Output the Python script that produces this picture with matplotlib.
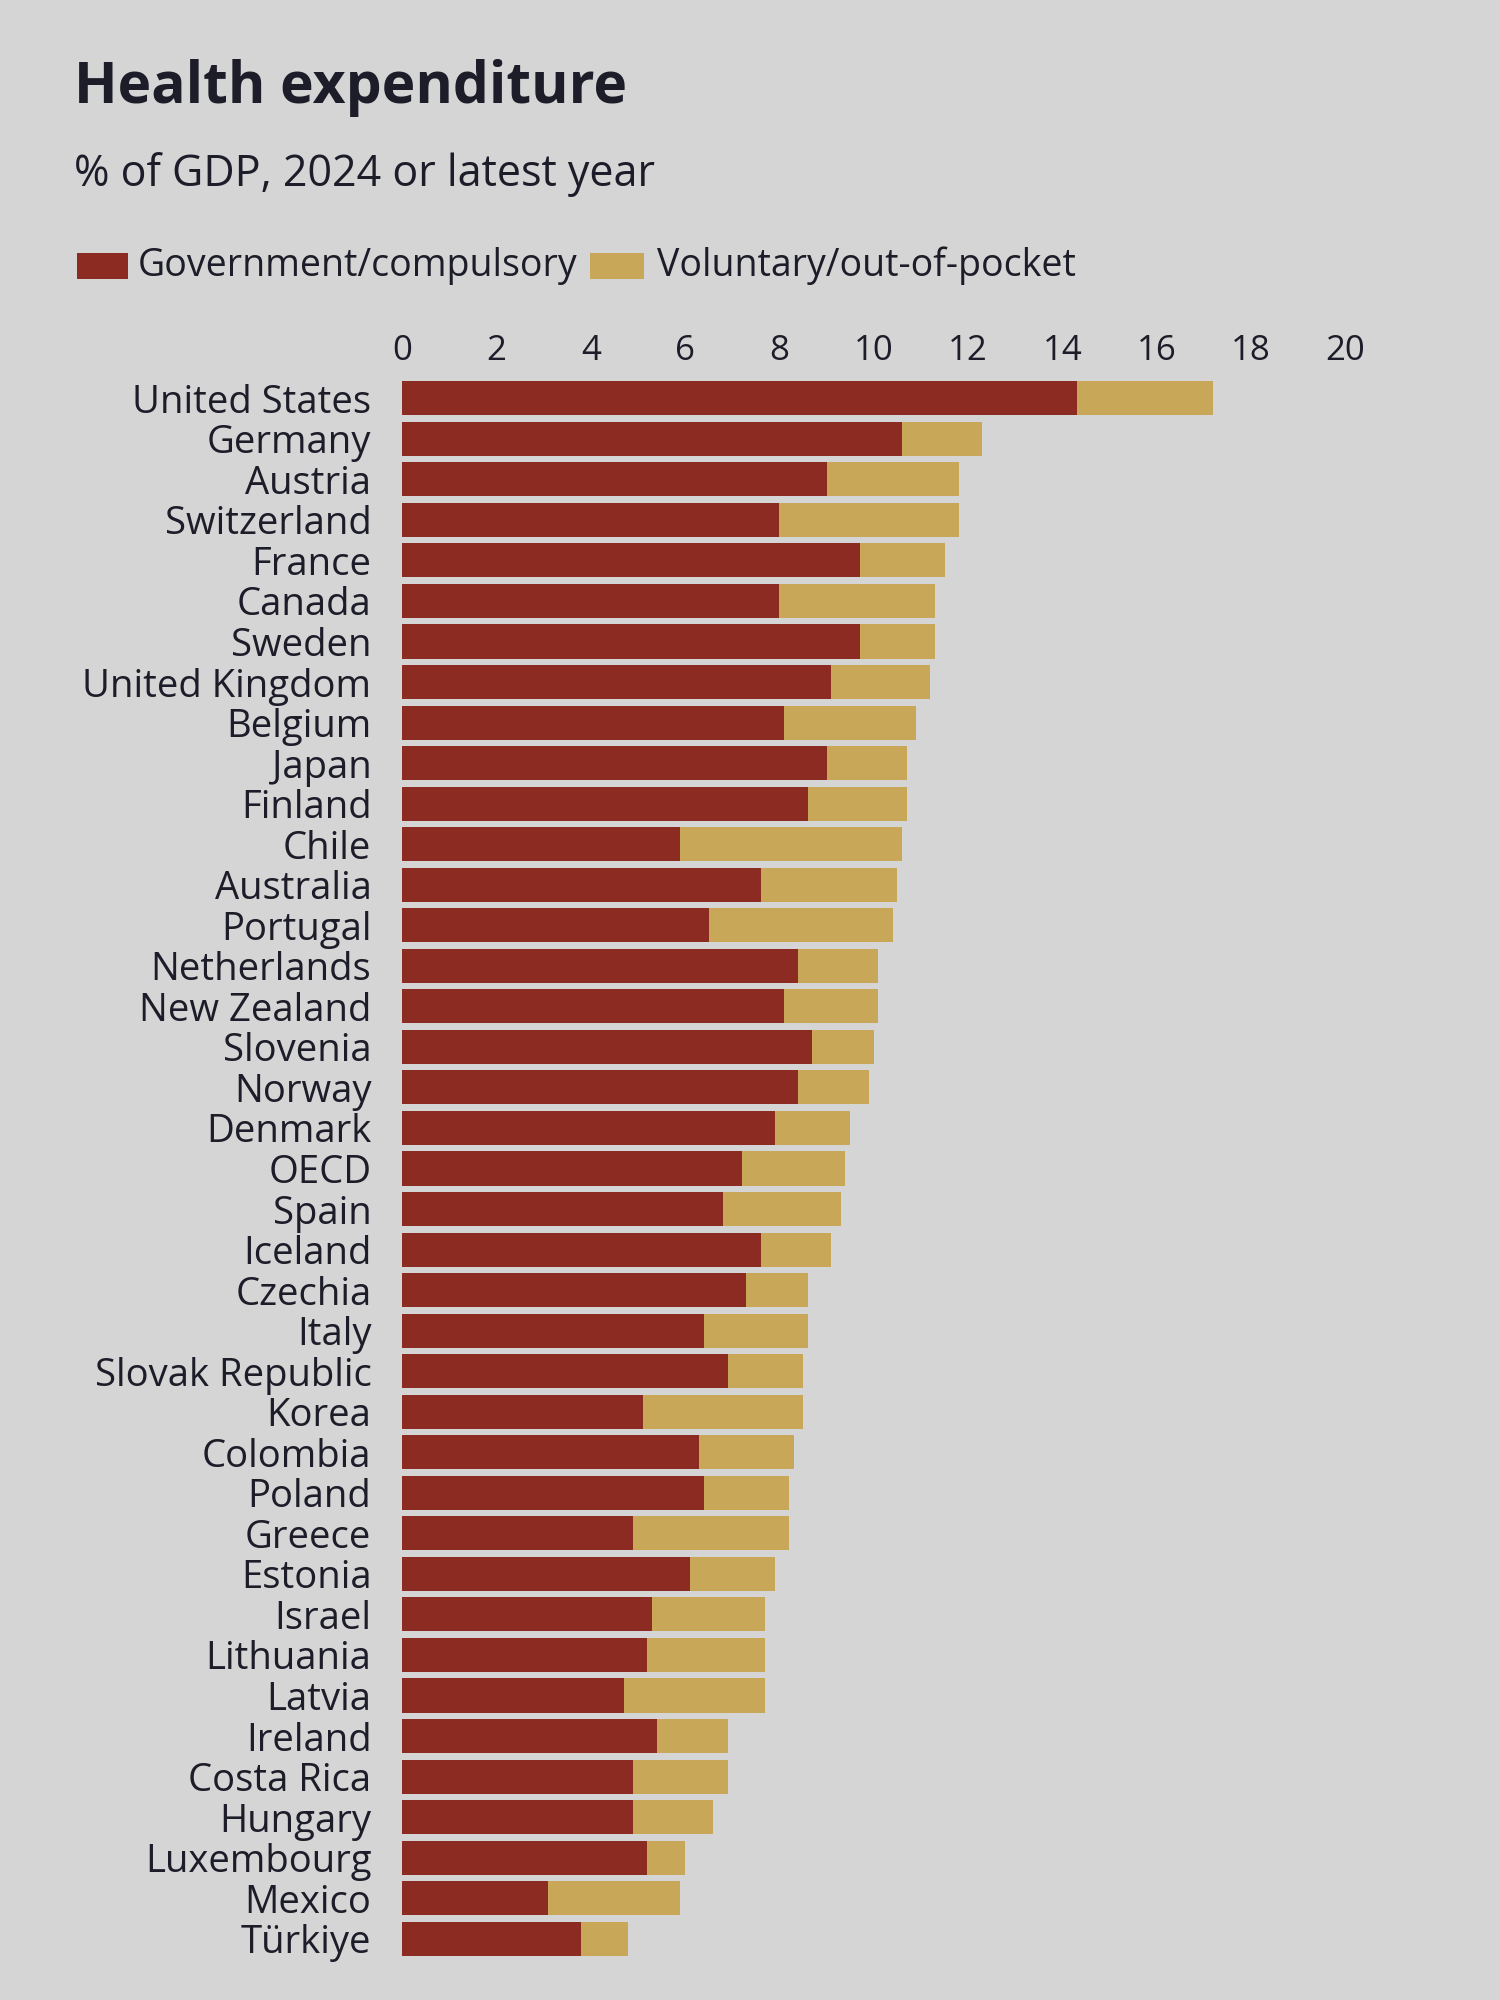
import matplotlib.pyplot as plt
from matplotlib.patches import Rectangle
from matplotlib import font_manager

countries = [
    "United States", "Germany", "Austria", "Switzerland", "France", "Canada",
    "Sweden", "United Kingdom", "Belgium", "Japan", "Finland", "Chile",
    "Australia", "Portugal", "Netherlands", "New Zealand", "Slovenia", "Norway",
    "Denmark", "OECD", "Spain", "Iceland", "Czechia", "Italy", "Slovak Republic",
    "Korea", "Colombia", "Poland", "Greece", "Estonia", "Israel", "Lithuania",
    "Latvia", "Ireland", "Costa Rica", "Hungary", "Luxembourg", "Mexico", "Türkiye",
]
government = [
    14.3, 10.6, 9.0, 8.0, 9.7, 8.0, 9.7, 9.1, 8.1, 9.0, 8.6, 5.9,
    7.6, 6.5, 8.4, 8.1, 8.7, 8.4, 7.9, 7.2, 6.8, 7.6, 7.3, 6.4, 6.9,
    5.1, 6.3, 6.4, 4.9, 6.1, 5.3, 5.2, 4.7, 5.4, 4.9, 4.9, 5.2, 3.1, 3.8,
]
total = [
    17.2, 12.3, 11.8, 11.8, 11.5, 11.3, 11.3, 11.2, 10.9, 10.7, 10.7, 10.6,
    10.5, 10.4, 10.1, 10.1, 10.0, 9.9, 9.5, 9.4, 9.3, 9.1, 8.6, 8.6, 8.5,
    8.5, 8.3, 8.2, 8.2, 7.9, 7.7, 7.7, 7.7, 6.9, 6.9, 6.6, 6.0, 5.9, 4.8,
]
voluntary = [t - g for t, g in zip(total, government)]
xticks = [0, 2, 4, 6, 8, 10, 12, 14, 16, 18, 20]

RED = "#8b2b22"
TAN = "#c9a759"
BG = "#d5d5d5"
TXT = "#1c1d29"

names = {f.name for f in font_manager.fontManager.ttflist}
main_font = "Open Sans" if "Open Sans" in names else "DejaVu Sans"
plt.rcParams["font.family"] = [main_font, "DejaVu Sans"]

fig = plt.figure(figsize=(15, 20), dpi=100, facecolor=BG)
ax = fig.add_axes([0.268, 0.0205, 0.629, 0.7905], facecolor=BG)

y = list(range(len(countries)))
ax.barh(y, government, height=0.84, color=RED)
ax.barh(y, voluntary, left=government, height=0.84, color=TAN)

ax.set_ylim(len(countries) - 0.5, -0.5)
ax.set_xlim(0, 20)
ax.set_yticks(y)
ax.set_yticklabels(countries, fontsize=27.5, color=TXT)
ax.set_xticks(xticks)
ax.set_xticklabels([str(v) for v in xticks], fontsize=25, color=TXT)
ax.xaxis.tick_top()
ax.tick_params(axis="x", length=0, pad=7)
ax.tick_params(axis="y", length=0, pad=22)
for s in ax.spines.values():
    s.set_visible(False)

fig.text(0.049, 0.956, "Health expenditure", fontsize=41, fontweight="bold",
         color=TXT, va="center", ha="left")
fig.text(0.049, 0.9125, "% of GDP, 2024 or latest year", fontsize=31,
         color=TXT, va="center", ha="left")

# legend
fig.patches.append(Rectangle((0.051, 0.8605), 0.034, 0.013, transform=fig.transFigure,
                             facecolor=RED, edgecolor="none"))
fig.text(0.092, 0.867, "Government/compulsory", fontsize=27, color=TXT,
         va="center", ha="left")
fig.patches.append(Rectangle((0.393, 0.8605), 0.036, 0.013, transform=fig.transFigure,
                             facecolor=TAN, edgecolor="none"))
fig.text(0.438, 0.867, "Voluntary/out-of-pocket", fontsize=27, color=TXT,
         va="center", ha="left")

fig.savefig("out.png", dpi=100, facecolor=BG)
